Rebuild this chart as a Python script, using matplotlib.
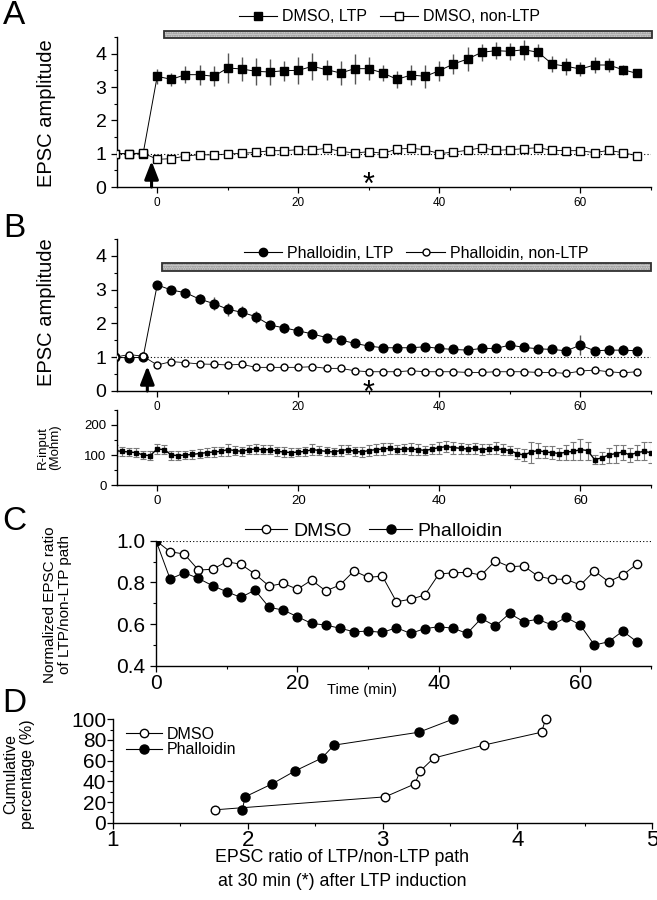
import matplotlib
matplotlib.use('Agg')
import matplotlib.pyplot as plt
from matplotlib import font_manager
from matplotlib.patches import Rectangle
from matplotlib.lines import Line2D
from matplotlib.ticker import MultipleLocator

names = {f.name for f in font_manager.fontManager.ttflist}
NARROW = 'Liberation Sans Narrow' if 'Liberation Sans Narrow' in names else 'Liberation Sans'
plt.rcParams['font.family'] = ['Liberation Sans', 'DejaVu Sans']
plt.rcParams['axes.linewidth'] = 1.0

# ---------------- data ----------------
t_ab = [-6, -4, -2, 0, 2, 4, 6, 8, 10, 12, 14, 16, 18, 20, 22, 24, 26, 28, 30, 32, 34,
        36, 38, 40, 42, 44, 46, 48, 50, 52, 54, 56, 58, 60, 62, 64, 66, 68]

a_ltp = [1.0, 1.0, 1.0, 3.32, 3.23, 3.37, 3.37, 3.32, 3.57, 3.54, 3.47, 3.45, 3.49, 3.50,
         3.62, 3.52, 3.42, 3.55, 3.55, 3.42, 3.23, 3.36, 3.32, 3.49, 3.69, 3.84, 4.04,
         4.09, 4.07, 4.12, 4.04, 3.69, 3.62, 3.54, 3.66, 3.66, 3.52, 3.41]
a_ltp_err = [0.05, 0.05, 0.05, 0.22, 0.2, 0.25, 0.3, 0.3, 0.45, 0.35, 0.4, 0.4, 0.3, 0.4,
             0.4, 0.3, 0.35, 0.45, 0.35, 0.25, 0.25, 0.3, 0.35, 0.3, 0.3, 0.35, 0.25,
             0.25, 0.25, 0.3, 0.25, 0.25, 0.25, 0.2, 0.25, 0.2, 0.15, 0.12]
a_non = [1.0, 1.0, 1.02, 0.83, 0.85, 0.93, 0.97, 0.96, 0.99, 1.01, 1.04, 1.09, 1.09, 1.12,
         1.11, 1.16, 1.07, 1.02, 1.06, 1.01, 1.14, 1.16, 1.12, 1.00, 1.05, 1.10, 1.18,
         1.10, 1.12, 1.15, 1.18, 1.10, 1.09, 1.09, 1.03, 1.10, 1.03, 0.94]
a_non_err = [0.04, 0.05, 0.05, 0.06, 0.06, 0.05, 0.06, 0.07, 0.06, 0.06, 0.07, 0.07, 0.06,
             0.07, 0.06, 0.07, 0.07, 0.06, 0.06, 0.07, 0.07, 0.08, 0.07, 0.06, 0.07, 0.07,
             0.08, 0.07, 0.08, 0.08, 0.08, 0.07, 0.06, 0.07, 0.07, 0.08, 0.07, 0.06]

b_ltp = [1.0, 0.98, 1.0, 3.14, 2.99, 2.91, 2.72, 2.59, 2.42, 2.33, 2.20, 1.95, 1.87, 1.78,
         1.69, 1.58, 1.51, 1.41, 1.33, 1.28, 1.28, 1.28, 1.31, 1.26, 1.23, 1.21, 1.26,
         1.26, 1.36, 1.29, 1.25, 1.23, 1.19, 1.36, 1.19, 1.21, 1.21, 1.19]
b_ltp_err = [0.04, 0.05, 0.05, 0.12, 0.1, 0.15, 0.15, 0.2, 0.2, 0.18, 0.18, 0.12, 0.15,
             0.15, 0.15, 0.12, 0.12, 0.12, 0.1, 0.1, 0.1, 0.1, 0.1, 0.1, 0.08, 0.1, 0.1,
             0.1, 0.12, 0.1, 0.1, 0.1, 0.12, 0.3, 0.12, 0.15, 0.15, 0.12]
b_non = [1.0, 1.08, 1.03, 0.77, 0.87, 0.84, 0.80, 0.79, 0.77, 0.79, 0.70, 0.70, 0.70,
         0.70, 0.72, 0.67, 0.67, 0.60, 0.57, 0.57, 0.57, 0.60, 0.57, 0.57, 0.57, 0.55,
         0.55, 0.57, 0.57, 0.57, 0.55, 0.55, 0.52, 0.59, 0.62, 0.57, 0.54, 0.57]
b_non_err = [0.03, 0.04, 0.04, 0.05, 0.05, 0.04, 0.04, 0.04, 0.04, 0.04, 0.04, 0.04, 0.04,
             0.04, 0.04, 0.04, 0.04, 0.04, 0.04, 0.04, 0.04, 0.04, 0.04, 0.04, 0.04, 0.04,
             0.04, 0.04, 0.04, 0.04, 0.04, 0.04, 0.04, 0.05, 0.06, 0.05, 0.05, 0.05]

r_time = list(range(-6, 71))
r_val = [115, 112, 110, 108, 100, 98,
         120, 118, 100, 98, 100, 102,
         105, 108, 110, 112, 118,
         115, 112, 118, 120, 117,
         118, 112, 110, 108, 110,
         112, 118, 115, 112, 110,
         115, 118, 112, 110, 115,
         118, 120, 122, 118, 120,
         120, 118, 115, 120, 125,
         128, 125, 122, 120, 122,
         118, 120, 122, 118, 115,
         105, 100, 110, 115, 110,
         108, 105, 110, 112, 118,
         115, 85, 90, 100, 105,
         110, 100, 108, 112, 108]
r_err = [18, 15, 14, 16, 12, 14,
         18, 15, 15, 14, 12, 15,
         14, 16, 18, 15, 20,
         16, 15, 14, 16, 15,
         14, 15, 16, 15, 14,
         16, 18, 15, 16, 14,
         18, 16, 15, 16, 18,
         18, 20, 18, 16, 18,
         20, 18, 16, 18, 20,
         18, 20, 18, 16, 18,
         18, 16, 20, 18, 16,
         18, 20, 35, 25, 20,
         22, 20, 25, 30, 35,
         30, 15, 20, 25, 30,
         25, 22, 25, 30, 35]

t_c = [0, 2, 4, 6, 8, 10, 12, 14, 16, 18, 20, 22, 24, 26, 28, 30, 32, 34, 36, 38, 40,
       42, 44, 46, 48, 50, 52, 54, 56, 58, 60, 62, 64, 66, 68]
c_dmso = [1.0, 0.947, 0.936, 0.859, 0.863, 0.899, 0.887, 0.84, 0.782, 0.795, 0.767,
          0.811, 0.759, 0.787, 0.855, 0.824, 0.83, 0.707, 0.719, 0.739, 0.84, 0.846,
          0.848, 0.835, 0.904, 0.875, 0.879, 0.83, 0.815, 0.815, 0.787, 0.855, 0.803,
          0.835, 0.888]
c_phal = [1.0, 0.816, 0.846, 0.819, 0.784, 0.755, 0.728, 0.763, 0.68, 0.667, 0.635,
          0.603, 0.595, 0.58, 0.563, 0.566, 0.56, 0.582, 0.555, 0.578, 0.587, 0.58,
          0.555, 0.627, 0.59, 0.651, 0.611, 0.623, 0.595, 0.632, 0.595, 0.499, 0.515,
          0.566, 0.515]

d_pct = [12.5, 25, 37.5, 50, 62.5, 75, 87.5, 100]
d_dmso = [1.76, 3.02, 3.24, 3.28, 3.38, 3.75, 4.18, 4.21]
d_phal = [1.96, 1.98, 2.18, 2.35, 2.55, 2.64, 3.27, 3.52]

ab_xticks = [0, 20, 40, 60]
ab_yticks = [0, 1, 2, 3, 4]
r_yticks = [0, 100, 200]
c_yticks = [0.4, 0.6, 0.8, 1.0]
c_yticklabels = ['0.4', '0.6', '0.8', '1.0']
d_xticks = [1, 2, 3, 4, 5]
d_yticks = [0, 20, 40, 60, 80, 100]

# ---------------- layout ----------------
W, H = 657, 900
fig = plt.figure(figsize=(W / 100, H / 100), dpi=100)


def rect(l, r, b, t):
    return [l / W, 1 - b / H, (r - l) / W, (b - t) / H]


axA = fig.add_axes(rect(117, 651, 187, 37))
axB = fig.add_axes(rect(117, 651, 391, 239))
axR = fig.add_axes(rect(117, 651, 485, 410))
axC = fig.add_axes(rect(156, 651, 665.7, 540.7))
axD = fig.add_axes(rect(113, 652, 822.7, 719.3))

for ax in (axA, axB, axR, axC, axD):
    ax.spines['top'].set_visible(False)
    ax.spines['right'].set_visible(False)
    ax.tick_params(which='major', length=4, width=0.9, direction='out')
    ax.tick_params(which='minor', length=2.5, width=0.8, direction='out')


def style_time_axis(ax, labelsize, family):
    ax.set_xlim(-5.7, 70)
    ax.set_xticks(ab_xticks)
    ax.set_xticklabels([str(v) for v in ab_xticks], fontsize=labelsize, family=family)
    ax.xaxis.set_minor_locator(MultipleLocator(10))


def draw_bar(ax, x0, x1, y0, y1):
    ax.add_patch(Rectangle((x0, y0), x1 - x0, y1 - y0, facecolor='#d0d0d0',
                           edgecolor='#8a8a8a', hatch='.......', lw=0, clip_on=False))
    ax.add_patch(Rectangle((x0, y0), x1 - x0, y1 - y0, facecolor='none',
                           edgecolor='#303030', lw=1.3, clip_on=False))


def draw_arrow(ax, x, ytip):
    ax.annotate('', xy=(x, ytip), xytext=(x, 0),
                arrowprops=dict(arrowstyle='-|>,head_length=0.9,head_width=0.35',
                                lw=2.2, color='k', shrinkA=0, shrinkB=0,
                                mutation_scale=12))


# ---------------- panel A ----------------
ax = axA
ax.errorbar(t_ab, a_ltp, yerr=a_ltp_err, fmt='s', ms=6, mfc='k', mec='k', color='k',
            ecolor='#555555', elinewidth=1.0, capsize=0, ls='-', lw=0.7, zorder=3)
ax.errorbar(t_ab, a_non, yerr=a_non_err, fmt='s', ms=5.2, mfc='white', mec='k',
            mew=1.0, color='k', ecolor='#777777', elinewidth=0.8, capsize=0,
            ls='-', lw=0.6, zorder=3)
ax.axhline(1.0, color='k', ls=(0, (1, 2)), lw=0.8, zorder=1)
ax.set_ylim(0, 4.5)
ax.set_yticks(ab_yticks)
ax.set_yticklabels([str(v) for v in ab_yticks], fontsize=14)
ax.yaxis.set_minor_locator(MultipleLocator(0.5))
style_time_axis(ax, 8.5, NARROW)
ax.set_ylabel('EPSC amplitude', fontsize=14.5)
ax.yaxis.set_label_coords(-0.115, 0.49)
draw_bar(ax, 1.0, 70.2, 4.48, 4.69)
draw_arrow(ax, -0.8, 0.78)
ax.text(30, -0.2, '*', fontsize=22, ha='center', va='baseline')
hA = [Line2D([], [], color='k', lw=0.8, marker='s', ms=6, mfc='k', mec='k'),
      Line2D([], [], color='k', lw=0.8, marker='s', ms=5.5, mfc='white', mec='k')]
ax.legend(hA, ['DMSO, LTP', 'DMSO, non-LTP'], ncol=2, loc='center',
          bbox_to_anchor=(0.51, 1.135), frameon=False, handlelength=2.4,
          handletextpad=0.3, columnspacing=0.8, borderpad=0,
          prop={'family': NARROW, 'size': 11.5})

# ---------------- panel B ----------------
ax = axB
ax.errorbar(t_ab, b_ltp, yerr=b_ltp_err, fmt='o', ms=6.3, mfc='k', mec='k', color='k',
            ecolor='#555555', elinewidth=1.0, capsize=0, ls='-', lw=0.7, zorder=3)
ax.errorbar(t_ab, b_non, yerr=b_non_err, fmt='o', ms=5.0, mfc='white', mec='k',
            mew=1.0, color='k', ecolor='#777777', elinewidth=0.8, capsize=0,
            ls='-', lw=0.6, zorder=3)
ax.axhline(1.0, color='k', ls=(0, (1, 2)), lw=0.8, zorder=1)
ax.set_ylim(0, 4.5)
ax.set_yticks(ab_yticks)
ax.set_yticklabels([str(v) for v in ab_yticks], fontsize=14)
ax.yaxis.set_minor_locator(MultipleLocator(0.5))
style_time_axis(ax, 8.5, NARROW)
ax.set_ylabel('EPSC amplitude', fontsize=14.5)
ax.yaxis.set_label_coords(-0.115, 0.52)
draw_bar(ax, 0.7, 70.0, 3.55, 3.79)
draw_arrow(ax, -1.4, 0.74)
ax.text(30, -0.33, '*', fontsize=22, ha='center', va='baseline')
hB = [Line2D([], [], color='k', lw=0.8, marker='o', ms=6, mfc='k', mec='k'),
      Line2D([], [], color='k', lw=0.8, marker='o', ms=5, mfc='white', mec='k')]
ax.legend(hB, ['Phalloidin, LTP', 'Phalloidin, non-LTP'], ncol=2, loc='center',
          bbox_to_anchor=(0.56, 0.905), frameon=False, handlelength=2.4,
          handletextpad=0.3, columnspacing=0.8, borderpad=0,
          prop={'family': NARROW, 'size': 11.5})

# ---------------- R-input ----------------
ax = axR
ax.errorbar(r_time, r_val, yerr=r_err, fmt='s', ms=3.2, mfc='k', mec='k', color='k',
            ecolor='#7a7a7a', elinewidth=0.8, capsize=2.5, capthick=0.8, ls='-', lw=1.0)
ax.set_ylim(0, 250)
ax.set_yticks(r_yticks)
ax.set_yticklabels([str(v) for v in r_yticks], fontsize=9.5, family=NARROW)
ax.yaxis.set_minor_locator(MultipleLocator(50))
style_time_axis(ax, 9.5, NARROW)
ax.set_ylabel('R-input\n(Mohm)', fontsize=9.5, family=NARROW, linespacing=1.0)
ax.yaxis.set_label_coords(-0.105, 0.5)

# ---------------- panel C ----------------
ax = axC
ax.plot(t_c, c_dmso, '-o', color='k', lw=0.7, ms=6, mfc='white', mec='k', mew=1.0,
        zorder=3)
ax.plot(t_c, c_phal, '-o', color='k', lw=0.7, ms=6.3, mfc='k', mec='k', zorder=3)
ax.axhline(1.0, color='k', ls=(0, (1, 2)), lw=0.8, zorder=1)
ax.set_xlim(0, 70)
ax.set_ylim(0.4, 1.0)
ax.set_yticks(c_yticks)
ax.set_yticklabels(c_yticklabels, fontsize=15)
ax.yaxis.set_minor_locator(MultipleLocator(0.1))
ax.set_xticks(ab_xticks)
ax.set_xticklabels([str(v) for v in ab_xticks], fontsize=15)
ax.xaxis.set_minor_locator(MultipleLocator(10))
ax.tick_params(axis='x', pad=2)
ax.set_ylabel('Normalized EPSC ratio\nof LTP/non-LTP path', fontsize=11, linespacing=1.05)
ax.yaxis.set_label_coords(-0.17, 0.486)
fig.text(362 / W, 1 - 690 / H, 'Time (min)', fontsize=10.5, family=NARROW,
         ha='center', va='center')
hC = [Line2D([], [], color='k', lw=0.8, marker='o', ms=6, mfc='white', mec='k'),
      Line2D([], [], color='k', lw=0.8, marker='o', ms=6.5, mfc='k', mec='k')]
ax.legend(hC, ['DMSO', 'Phalloidin'], ncol=2, loc='center',
          bbox_to_anchor=(0.44, 1.075), frameon=False, handlelength=2.2,
          handletextpad=0.3, columnspacing=0.9, borderpad=0,
          prop={'family': NARROW, 'size': 14})

# ---------------- panel D ----------------
ax = axD
ax.plot(d_dmso, d_pct, '-o', color='k', lw=0.7, ms=6.2, mfc='white', mec='k', mew=1.0,
        clip_on=False, zorder=3)
ax.plot(d_phal, d_pct, '-o', color='k', lw=0.7, ms=6.5, mfc='k', mec='k',
        clip_on=False, zorder=3)
ax.set_xlim(1, 5)
ax.set_ylim(0, 100)
ax.set_xticks(d_xticks)
ax.set_xticklabels([str(v) for v in d_xticks], fontsize=16)
ax.xaxis.set_minor_locator(MultipleLocator(0.5))
ax.set_yticks(d_yticks)
ax.set_yticklabels([str(v) for v in d_yticks], fontsize=15)
ax.yaxis.set_minor_locator(MultipleLocator(10))
ax.tick_params(axis='x', pad=1)
ax.tick_params(axis='y', pad=1)
ax.set_ylabel('Cumulative\npercentage (%)', fontsize=11.5, family=NARROW, linespacing=1.15)
ax.yaxis.set_label_coords(-0.145, 0.47)
ax.set_xlabel('EPSC ratio of LTP/non-LTP path\nat 30 min (*) after LTP induction',
              fontsize=12.8, family=NARROW, linespacing=1.55)
ax.xaxis.set_label_coords(0.425, -0.255, transform=ax.transAxes)
ax.xaxis.label.set_va('top')
hD = [Line2D([], [], color='k', lw=0.8, marker='o', ms=6, mfc='white', mec='k'),
      Line2D([], [], color='k', lw=0.8, marker='o', ms=6.5, mfc='k', mec='k')]
ax.legend(hD, ['DMSO', 'Phalloidin'], loc='center left',
          bbox_to_anchor=(0.025, 0.78), frameon=False, handlelength=2.2,
          handletextpad=0.3, labelspacing=0.05, borderpad=0, borderaxespad=0,
          prop={'family': NARROW, 'size': 11.5})

# ---------------- panel letters ----------------
for letter, y in (('A', 15), ('B', 228), ('C', 522), ('D', 703)):
    fig.text(14 / W, 1 - y / H, letter, fontsize=24, family=NARROW,
             ha='center', va='center')

fig.savefig('out.png', dpi=100)
